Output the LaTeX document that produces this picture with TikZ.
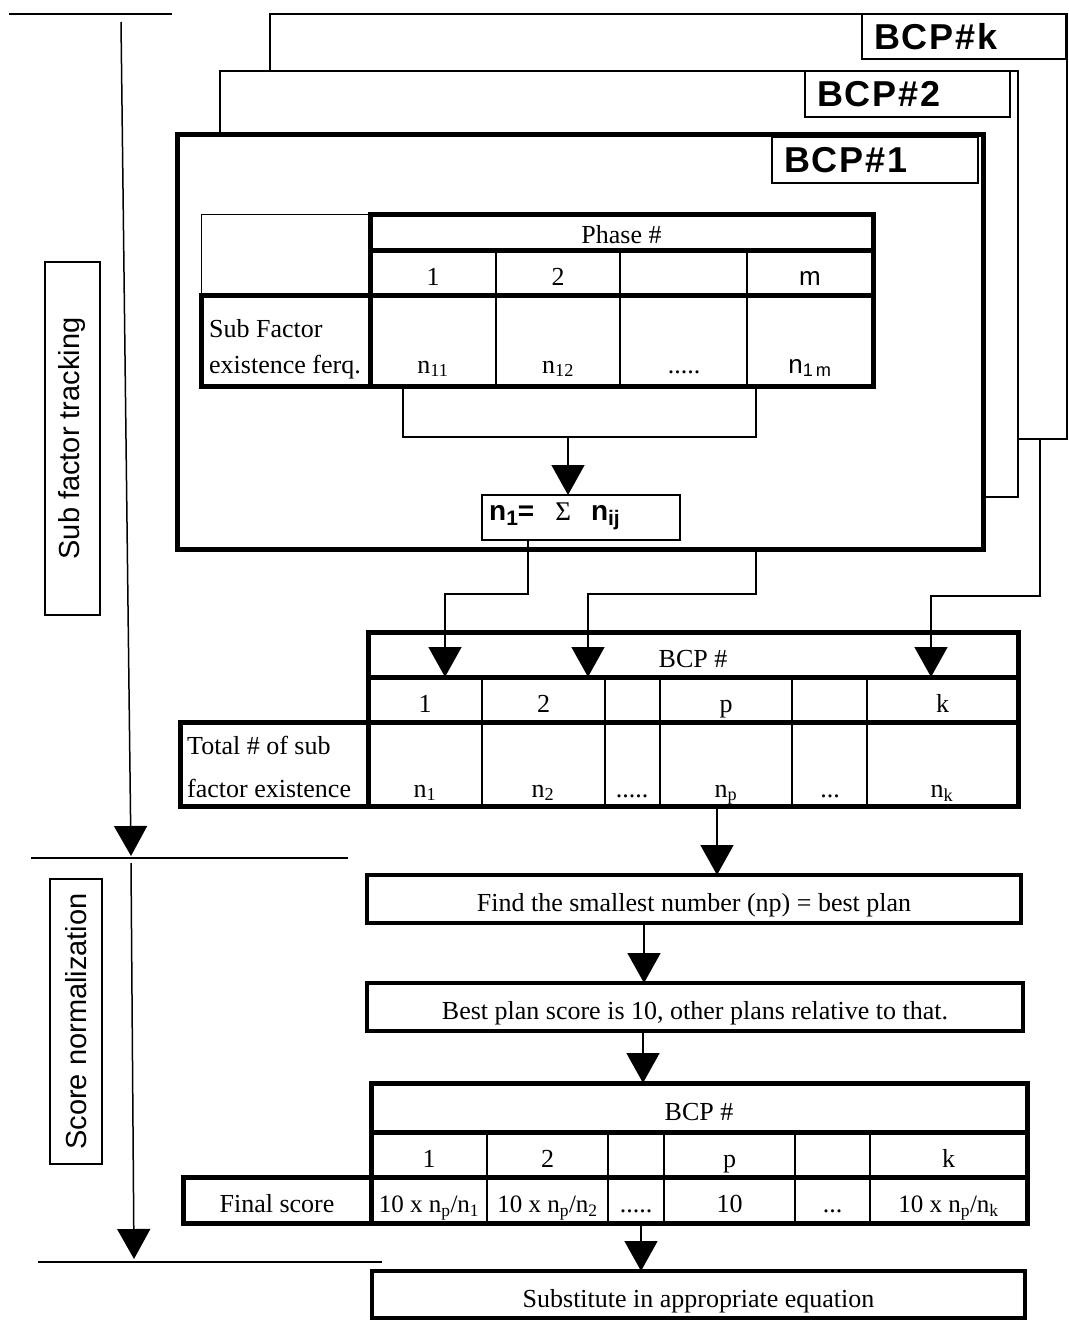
\documentclass[tikz,border=0pt]{standalone}
\usepackage{fontspec}
\setmainfont{Liberation Serif}
\newfontfamily\arialf{Liberation Sans}
\newfontfamily\arialsp[LetterSpace=5]{Liberation Sans}
\usetikzlibrary{arrows.meta}
\newcommand\tabfont{\fontsize{26}{30}\selectfont}
\newcommand\sidefont{\arialf\fontsize{29}{34}\selectfont}
\newcommand\bcpfont{\arialsp\bfseries\fontsize{36}{40}\selectfont}
\begin{document}
\begin{tikzpicture}[x=1pt,y=-1pt,
  conn/.style={line width=1.5pt},
  arr/.style={line width=1.5pt,-{Triangle[width=33pt,length=30pt]}},
  sepline/.style={line width=1.6pt},
  thk/.style={line width=5pt,line cap=rect},
  tcell/.style={draw,line width=2pt,anchor=north west,inner sep=0pt,outer sep=0pt,font=\tabfont,text height=25pt,text depth=0pt},
  bcpframe/.style={draw,fill=white,line width=1.5pt,anchor=north west,inner sep=0pt,outer sep=0pt},
  lbl/.style={draw,line width=1.2pt,anchor=north west,inner sep=0pt,outer sep=0pt},
  bigbox/.style={draw,line width=4.5pt,anchor=north west,inner sep=0pt,outer sep=0pt,font=\tabfont,text height=25pt,text depth=0pt},
  celltxt/.style={inner sep=0pt,font=\tabfont},
  sidebox/.style={draw,line width=1.5pt,anchor=north west,inner sep=0pt,outer sep=0pt},
]
\useasboundingbox (0,0) rectangle (1068,1321);

% ---------- left side: phases ----------
\coordinate (s1a) at (9,14);   \coordinate (s1b) at (172,14);
\coordinate (s2a) at (31,858); \coordinate (s2b) at (348,858);
\coordinate (s3a) at (38,1262);\coordinate (s3b) at (382,1262);
\draw[sepline] (s1a) -- (s1b);
\draw[sepline] (s2a) -- (s2b);
\draw[sepline] (s3a) -- (s3b);
\coordinate (v1s) at (121,22);  \coordinate (v1e) at (131,856);
\coordinate (v2s) at (131,863); \coordinate (v2e) at (134,1259);
\draw[arr] (v1s) -- (v1e);
\draw[arr] (v2s) -- (v2e);
\node[sidebox,minimum width=55pt,minimum height=353pt] (sb1) at (45,262) {};
\node[rotate=90,inner sep=0pt,font=\sidefont] (sb1t) at (sb1.center) {Sub factor tracking};
\node[sidebox,minimum width=52pt,minimum height=285pt] (sb2) at (50,879) {};
\node[rotate=90,inner sep=0pt,font=\sidefont] (sb2t) at (sb2.center) {Score normalization};

% ---------- BCP frames ----------
\node[bcpframe,minimum width=797pt,minimum height=425pt] (fk) at (270,14) {};
\node[lbl,minimum width=204pt,minimum height=45pt] (lk) at (862,14) {};
\node[anchor=west,inner sep=0pt,font=\bcpfont] (lkt) at (874,37) {BCP\#k};
\node[bcpframe,minimum width=798pt,minimum height=426pt] (f2) at (220,71) {};
\node[lbl,minimum width=205pt,minimum height=46pt] (l2) at (805,71) {};
\node[anchor=west,inner sep=0pt,font=\bcpfont] (l2t) at (817,94) {BCP\#2};
\node[bcpframe,line width=5pt,minimum width=806pt,minimum height=414pt] (f1) at (177,135) {};
\node[lbl,minimum width=206pt,minimum height=46pt] (l1) at (772,137) {};
\node[anchor=west,inner sep=0pt,font=\bcpfont] (l1t) at (784,160) {BCP\#1};

% ---------- table 1 (phases) ----------
\node[tcell,line width=1pt,minimum width=169pt,minimum height=81pt] (t1corner) at (201,215) {};
\node[tcell,minimum width=503pt,minimum height=36pt,text height=21pt] (t1head) at (370,215) {Phase \#};
\node[tcell,minimum width=126pt,minimum height=45pt] (t1n1) at (370,251) {1};
\node[tcell,minimum width=124pt,minimum height=45pt] (t1n2) at (496,251) {2};
\node[tcell,minimum width=127pt,minimum height=45pt] (t1n3) at (620,251) {};
\node[tcell,minimum width=126pt,minimum height=45pt] (t1n4) at (747,251) {\arialf m};
\node[tcell,minimum width=169pt,minimum height=90pt] (t1lab) at (201,296) {};
\node[tcell,minimum width=126pt,minimum height=90pt] (t1d1) at (370,296) {};
\node[tcell,minimum width=124pt,minimum height=90pt] (t1d2) at (496,296) {};
\node[tcell,minimum width=127pt,minimum height=90pt] (t1d3) at (620,296) {};
\node[tcell,minimum width=126pt,minimum height=90pt] (t1d4) at (747,296) {};
\node[celltxt,anchor=base west] (t1l1) at (209,337) {Sub Factor};
\node[celltxt,anchor=base west] (t1l2) at (209,373) {existence ferq.};
\node[celltxt,anchor=base] (t1v1) at (433,373) {n\textsubscript{11}};
\node[celltxt,anchor=base] (t1v2) at (558,373) {n\textsubscript{12}};
\node[celltxt,anchor=base] (t1v3) at (684,373) {.....};
\node[celltxt,anchor=base] (t1v4) at (810,373) {\arialf n\textsubscript{1\,m}};
\draw[thk] (t1head.north west) rectangle (t1head.south east);
\draw[thk] (t1lab.north west) rectangle (t1d4.south east);
\draw[thk] (t1head.south west) -- (t1d1.north west);
\draw[thk] (t1head.south east) -- (t1d4.north east);
\draw[thk] (t1lab.north east) -- (t1lab.south east);

% bracket and sum box
\coordinate (brL) at (403,437); \coordinate (brR) at (756,437); \coordinate (brM) at (568,437);
\draw[conn] (brL |- t1d1.south) -- (brL) -- (brR) -- (brR |- t1d4.south);
\node[draw,line width=2.5pt,anchor=north west,inner sep=0pt,outer sep=0pt,minimum width=198pt,minimum height=45pt] (nbox) at (482,495) {};
\node[anchor=west,inner sep=0pt,font={\arialf\bfseries\fontsize{28}{30}\selectfont}] (nboxt) at (489,516)
  {n{\fontsize{21}{24}\selectfont\raisebox{-5pt}{1}}=\hspace{21pt}{\rmfamily\mdseries\fontsize{27}{30}\selectfont Σ}\hspace{20pt}n{\fontsize{21}{24}\selectfont\raisebox{-5pt}{ij}}};
\draw[arr] (brM) -- (brM |- nbox.north);

% ---------- table 2 (BCP totals) ----------
\node[tcell,minimum width=650pt,minimum height=45pt] (t2head) at (368,632) {BCP \#};
\node[tcell,minimum width=114pt,minimum height=45pt] (t2n1) at (368,677) {1};
\node[tcell,minimum width=123pt,minimum height=45pt] (t2n2) at (482,677) {2};
\node[tcell,minimum width=55pt,minimum height=45pt] (t2n3) at (605,677) {};
\node[tcell,minimum width=132pt,minimum height=45pt] (t2n4) at (660,677) {p};
\node[tcell,minimum width=75pt,minimum height=45pt] (t2n5) at (792,677) {};
\node[tcell,minimum width=151pt,minimum height=45pt] (t2n6) at (867,677) {k};
\node[tcell,minimum width=188pt,minimum height=84pt] (t2lab) at (180,722) {};
\node[tcell,minimum width=114pt,minimum height=84pt] (t2d1) at (368,722) {};
\node[tcell,minimum width=123pt,minimum height=84pt] (t2d2) at (482,722) {};
\node[tcell,minimum width=55pt,minimum height=84pt] (t2d3) at (605,722) {};
\node[tcell,minimum width=132pt,minimum height=84pt] (t2d4) at (660,722) {};
\node[tcell,minimum width=75pt,minimum height=84pt] (t2d5) at (792,722) {};
\node[tcell,minimum width=151pt,minimum height=84pt] (t2d6) at (867,722) {};
\node[celltxt,anchor=base west] (t2l1) at (187,754) {Total \# of sub};
\node[celltxt,anchor=base west] (t2l2) at (187,797) {factor existence};
\node[celltxt,anchor=base] (t2v1) at (425,797) {n\textsubscript{1}};
\node[celltxt,anchor=base] (t2v2) at (543,797) {n\textsubscript{2}};
\node[celltxt,anchor=base] (t2v3) at (632,797) {.....};
\node[celltxt,anchor=base] (t2v4) at (726,797) {n\textsubscript{p}};
\node[celltxt,anchor=base] (t2v5) at (830,797) {...};
\node[celltxt,anchor=base] (t2v6) at (942,797) {n\textsubscript{k}};
\draw[thk] (t2head.north west) rectangle (t2head.south east);
\draw[thk] (t2lab.north west) rectangle (t2d6.south east);
\draw[thk] (t2head.south west) -- (t2d1.north west);
\draw[thk] (t2head.south east) -- (t2d6.north east);
\draw[thk] (t2lab.north east) -- (t2lab.south east);

% connectors from the BCP frames into table 2
\coordinate (c1a) at (528,594); \coordinate (c1b) at (445,594);
\coordinate (c2a) at (756,594); \coordinate (c2b) at (588,594);
\coordinate (c3a) at (1040,596); \coordinate (c3b) at (931,596);
\draw[arr] (c1a |- nbox.south) -- (c1a) -- (c1b) -- (c1b |- t2head.south);
\draw[arr] (c2a |- f1.south) -- (c2a) -- (c2b) -- (c2b |- t2head.south);
\draw[arr] (c3a |- fk.south) -- (c3a) -- (c3b) -- (c3b |- t2head.south);

% ---------- normalization steps ----------
\node[bigbox,minimum width=654pt,minimum height=48pt] (find) at (367,875) {Find the smallest number (np) = best plan};
\node[bigbox,minimum width=656pt,minimum height=48pt] (best) at (367,983) {Best plan score is 10, other plans relative to that.};
\coordinate (a4) at (717,0); \coordinate (a5) at (644,0); \coordinate (a6) at (643,0); \coordinate (a7) at (641,0);
\draw[arr] (a4 |- t2d4.south) -- (a4 |- find.north);
\draw[arr] (a5 |- find.south) -- (a5 |- best.north);

% ---------- table 3 (final score) ----------
\node[tcell,minimum width=656pt,minimum height=49pt] (t3head) at (371,1083) {BCP \#};
\node[tcell,minimum width=116pt,minimum height=45pt] (t3n1) at (371,1132) {1};
\node[tcell,minimum width=121pt,minimum height=45pt] (t3n2) at (487,1132) {2};
\node[tcell,minimum width=56pt,minimum height=45pt] (t3n3) at (608,1132) {};
\node[tcell,minimum width=131pt,minimum height=45pt] (t3n4) at (664,1132) {p};
\node[tcell,minimum width=75pt,minimum height=45pt] (t3n5) at (795,1132) {};
\node[tcell,minimum width=157pt,minimum height=45pt] (t3n6) at (870,1132) {k};
\node[tcell,minimum width=188pt,minimum height=46pt] (t3lab) at (183,1177) {Final score};
\node[tcell,minimum width=116pt,minimum height=46pt,font={\fontsize{25}{30}\selectfont}] (t3d1) at (371,1177) {10 x n\textsubscript{p}/n\textsubscript{1}};
\node[tcell,minimum width=121pt,minimum height=46pt,font={\fontsize{25}{30}\selectfont}] (t3d2) at (487,1177) {10 x n\textsubscript{p}/n\textsubscript{2}};
\node[tcell,minimum width=56pt,minimum height=46pt] (t3d3) at (608,1177) {.....};
\node[tcell,minimum width=131pt,minimum height=46pt] (t3d4) at (664,1177) {10};
\node[tcell,minimum width=75pt,minimum height=46pt] (t3d5) at (795,1177) {...};
\node[tcell,minimum width=157pt,minimum height=46pt,font={\fontsize{25}{30}\selectfont}] (t3d6) at (870,1177) {10 x n\textsubscript{p}/n\textsubscript{k}};
\draw[thk] (t3head.north west) rectangle (t3head.south east);
\draw[thk] (t3lab.north west) rectangle (t3d6.south east);
\draw[thk] (t3head.south west) -- (t3d1.north west);
\draw[thk] (t3head.south east) -- (t3d6.north east);
\draw[thk] (t3lab.north east) -- (t3lab.south east);
\draw[arr] (a6 |- best.south) -- (a6 |- t3head.north);

\node[bigbox,minimum width=653pt,minimum height=47pt] (subst) at (372,1271) {Substitute in appropriate equation};
\draw[arr] (a7 |- t3d3.south) -- (a7 |- subst.north);
\end{tikzpicture}
\end{document}
